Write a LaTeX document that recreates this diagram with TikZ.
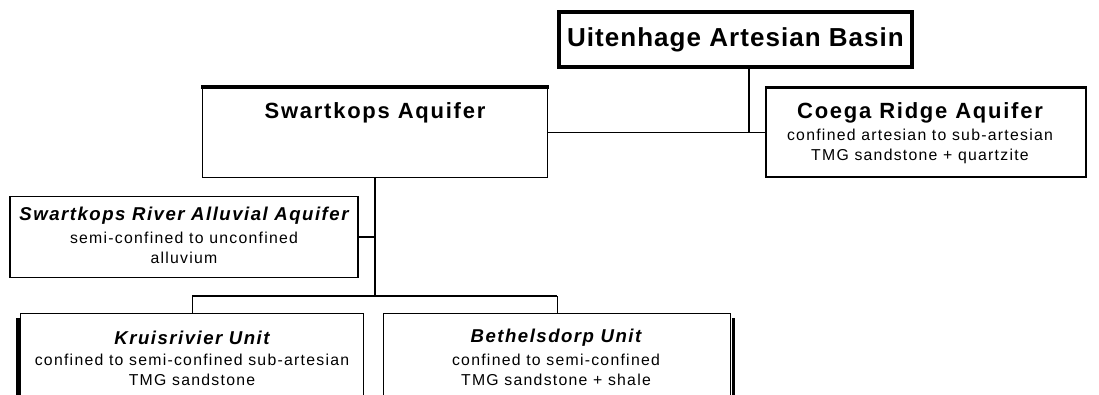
\documentclass[tikz,border=0pt]{standalone}
\usepackage{fontspec}
\setmainfont{Liberation Sans}
\newfontfamily\lsfont[LetterSpace=8]{Liberation Sans}
\newfontfamily\lsbig[LetterSpace=4]{Liberation Sans}
\begin{document}
\begin{tikzpicture}[x=1pt,y=-1pt,
  box/.style={draw,line width=1.4pt,rectangle,inner sep=0pt},
  conn/.style={line width=1.4pt},
  thickedge/.style={line width=3.5pt},
  txt/.style={align=center,inner sep=0pt,font=\lsfont\fontsize{15.8}{20}\selectfont},
  ttl/.style={font=\lsfont\bfseries\fontsize{22}{24}\selectfont},
  ttli/.style={font=\lsfont\bfseries\itshape\fontsize{18.6}{20}\selectfont}]
\useasboundingbox (0,0) rectangle (1099,394);
\clip (0,0) rectangle (1099,394);
% boxes
\node[box,line width=3.5pt,minimum width=353pt,minimum height=55pt] (ub) at (735.5,39.5) {};
\node[box,minimum width=345pt,minimum height=90pt] (sw) at (375,132.5) {};
\node[box,minimum width=320pt,minimum height=89pt] (co) at (926,132.5) {};
\node[box,minimum width=348pt,minimum height=81pt] (al) at (184,237) {};
\node[box,minimum width=343pt,minimum height=120pt,anchor=north west] (kr) at (20,313) {};
\node[box,minimum width=347pt,minimum height=120pt,anchor=north west] (be) at (383,313) {};
% thick edges
\draw[thickedge] ([xshift=-0.5pt]sw.north west) -- ([xshift=0.5pt]sw.north east);
\draw[thickedge] ([xshift=-0.5pt]co.north west) -- ([xshift=0.5pt]co.north east);
\draw[thickedge] ([xshift=-2pt,yshift=-5pt]kr.north west) -- ([xshift=-2pt]kr.south west);
\draw[thickedge] ([xshift=2pt,yshift=-5pt]be.north east) -- ([xshift=2pt]be.south east);
% texts
\node[font=\lsbig\bfseries\fontsize{26}{28}\selectfont,inner sep=0pt] (ubt) at (ub.center) {Uitenhage Artesian Basin};
\node[ttl,inner sep=0pt] (swt) at (375,113) {Swartkops Aquifer};
\node[ttl,inner sep=0pt] (cot) at (920,113) {Coega Ridge Aquifer};
\node[txt,anchor=north] (cos) at (920,129) {confined artesian to sub-artesian\\TMG sandstone + quartzite};
\node[ttli,inner sep=0pt] (alt) at (184,216) {Swartkops River Alluvial Aquifer};
\node[txt,anchor=north] (als) at (184,232) {semi-confined to unconfined\\alluvium};
\node[ttli,inner sep=0pt] (krt) at (192,338) {Kruisrivier Unit};
\node[txt,anchor=north] (krs) at (192,354) {confined to semi-confined sub-artesian\\TMG sandstone};
\node[ttli,inner sep=0pt] (bet) at (556,338) {Bethelsdorp Unit};
\node[txt,anchor=north] (bes) at (556,354) {confined to semi-confined\\TMG sandstone + shale};
% connectors
\coordinate (j1) at ([xshift=13.5pt]ub.south |- sw.east);
\draw[conn] (sw.east) -- (co.west);
\draw[conn] ([xshift=13.5pt]ub.south) -- (j1);
\coordinate (j2) at (sw.south |- al.east);
\coordinate (j3) at (375,296);
\draw[conn] (sw.south) -- (j3);
\draw[conn] (al.east) -- (j2);
\draw[conn] (kr.north |- j3) -- (be.north |- j3);
\draw[conn] (kr.north |- j3) -- (kr.north);
\draw[conn] (be.north |- j3) -- (be.north);
\end{tikzpicture}
\end{document}
